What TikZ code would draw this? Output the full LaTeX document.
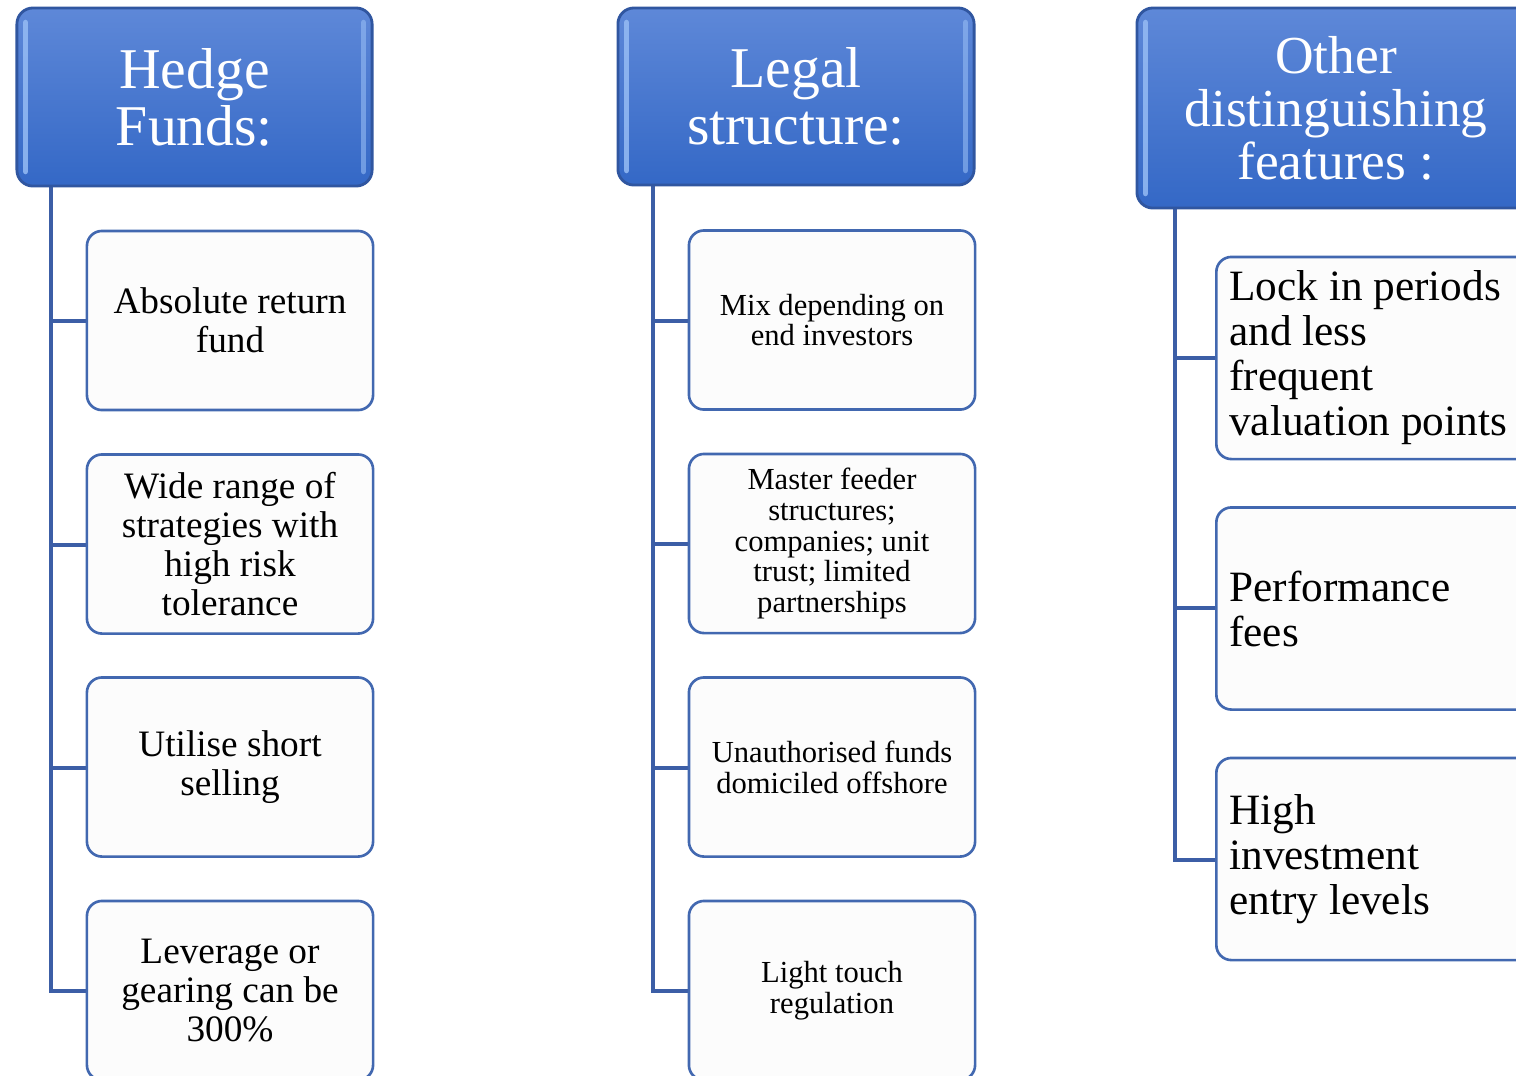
\documentclass[tikz,border=0pt]{standalone}
\usepackage{fontspec}
\setmainfont{Liberation Serif}
\usetikzlibrary{calc}
\definecolor{hdrtop}{RGB}{94,136,216}
\definecolor{hdrbot}{RGB}{52,104,198}
\definecolor{hdrborder}{RGB}{48,86,160}
\definecolor{hdrlight}{RGB}{150,188,244}
\definecolor{leafborder}{RGB}{66,104,176}
\definecolor{leaffill}{RGB}{252,252,252}
\definecolor{linkcol}{RGB}{60,94,166}
\begin{document}
\begin{tikzpicture}[x=0.01cm,y=-0.01cm,
  hdr/.style={draw=hdrborder, line width=0.8pt, rounded corners=0.16cm, top color=hdrtop, bottom color=hdrbot, text=white, align=center, inner sep=0pt},
  hdrA/.style={hdr, font=\fontsize{16.4}{16.2}\selectfont},
  hdrB/.style={hdr, font=\fontsize{15.2}{15.1}\selectfont},
  gleam/.style={hdrlight, line width=1.6pt, line cap=round, opacity=0.85},
  leaf/.style={draw=leafborder, line width=0.75pt, rounded corners=0.15cm, fill=leaffill, inner sep=0pt},
  leafA/.style={leaf, align=center, minimum width=2.86cm, minimum height=1.79cm, font=\fontsize{10.6}{11.1}\selectfont},
  leafB/.style={leaf, align=center, minimum width=2.86cm, minimum height=1.79cm, font=\fontsize{8.7}{8.8}\selectfont},
  leafC/.style={leaf, anchor=west, align=flush left, text width=3.0cm, inner xsep=0.13cm, minimum height=2.02cm, font=\fontsize{12.3}{12.8}\selectfont},
  link/.style={draw=linkcol, line width=0.9pt}]
\useasboundingbox (0,0) rectangle (1516,1075);
\clip (0,0) rectangle (1516,1075);

% ---------- column 1 ----------
\coordinate (t1) at (51,186);
\foreach \y in {321,545,768,991}{\draw[link] (t1) |- (230,\y);}
\node[hdrA, minimum width=3.55cm, minimum height=1.78cm] (h1) at (194.5,97) {Hedge\\Funds:};
\draw[gleam] ($(h1.north west)+(10,16)$) -- ($(h1.south west)+(10,-16)$);
\draw[gleam, opacity=0.6] ($(h1.north east)+(-10,16)$) -- ($(h1.south east)+(-10,-16)$);
\node[leafA] (a1) at (230,320.5) {Absolute return\\fund};
\node[leafA] (a2) at (230,544) {Wide range of\\strategies with\\high risk\\tolerance};
\node[leafA] (a3) at (230,767) {Utilise short\\selling};
\node[leafA] (a4) at (230,990.5) {Leverage or\\gearing can be\\300\%};

% ---------- column 2 ----------
\coordinate (t2) at (653,185);
\foreach \y in {321,544,768,991}{\draw[link] (t2) |- (832,\y);}
\node[hdrA, minimum width=3.56cm, minimum height=1.77cm] (h2) at (796,96.5) {Legal\\structure:};
\draw[gleam] ($(h2.north west)+(10,16)$) -- ($(h2.south west)+(10,-16)$);
\draw[gleam, opacity=0.6] ($(h2.north east)+(-10,16)$) -- ($(h2.south east)+(-10,-16)$);
\node[leafB] (b1) at (832,320) {Mix depending on\\end investors};
\node[leafB] (b2) at (832,543.5) {Master feeder\\structures;\\companies; unit\\trust; limited\\partnerships};
\node[leafB] (b3) at (832,767) {Unauthorised funds\\domiciled offshore};
\node[leafB] (b4) at (832,990.5) {Light touch\\regulation};

% ---------- column 3 ----------
\coordinate (t3) at (1175,208);
\foreach \y in {358,608,860}{\draw[link] (t3) |- (1300,\y);}
\node[hdrB, minimum width=3.98cm, minimum height=2.00cm] (h3) at (1336,108) {Other\\distinguishing\\features :};
\draw[gleam] ($(h3.north west)+(10,16)$) -- ($(h3.south west)+(10,-16)$);
\node[leafC] (c1) at (1215,358) {Lock in periods\\and less\\frequent\\valuation points};
\node[leafC] (c2) at (1215,608.5) {Performance\\fees};
\node[leafC] (c3) at (1215,859) {High\\investment\\entry levels};
\end{tikzpicture}
\end{document}
